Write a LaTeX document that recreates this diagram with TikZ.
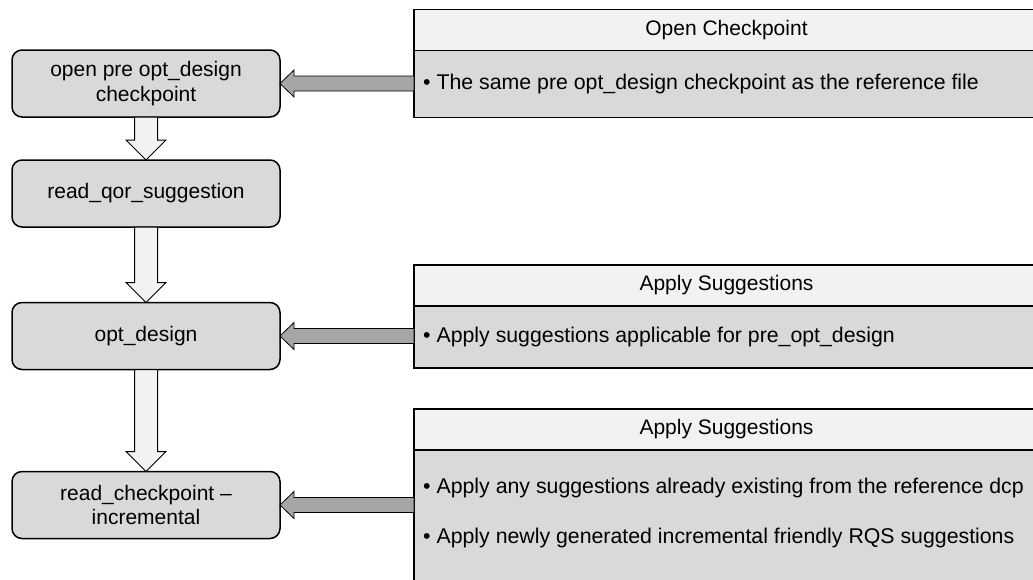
\documentclass[tikz,border=0pt]{standalone}
\usepackage{fontspec}
\setmainfont{Liberation Sans}
\usetikzlibrary{calc}
\definecolor{boxgray}{HTML}{D9D9D9}
\definecolor{headgray}{HTML}{F2F2F2}
\definecolor{arrowgray}{HTML}{A6A6A6}

% hollow block arrow between two flow boxes
\newcommand{\fatdown}[2]{\draw[downarrow] ($(#1.south)+(-11.5,0)$) -- ($(#2.north)+(-11.5,-20)$) -- ($(#2.north)+(-20,-20)$) -- (#2.north) -- ($(#2.north)+(20,-20)$) -- ($(#2.north)+(11.5,-20)$) -- ($(#1.south)+(11.5,0)$) -- cycle;}
% grey block arrow from a note into a flow box
\newcommand{\fatleft}[2]{\path (#1.west |- #2.east) coordinate (tail);
\draw[sidearrow] (#2.east) -- ++(14,-13.5) -- ++(0,6) -- ($(tail)+(0,-7.5)$) -- ($(tail)+(0,7.5)$) -- ($(#2.east)+(14,7.5)$) -- ++(0,6) -- cycle;}

\begin{document}
\begin{tikzpicture}[x=1pt,y=-1pt]
\tikzstyle{flowbox} = [rectangle, rounded corners=10pt, draw=black, line width=1.5pt, fill=boxgray, minimum width=268pt, minimum height=67pt, outer sep=0pt, align=center, font=\fontsize{21}{24.5}\selectfont]
\tikzstyle{head} = [rectangle, draw=black, line width=1.5pt, fill=headgray, minimum width=625pt, minimum height=41pt, outer sep=0pt, inner sep=0pt, anchor=north west, font=\fontsize{21}{24}\selectfont]
\tikzstyle{body} = [rectangle, draw=black, line width=1.5pt, fill=boxgray, minimum width=625pt, outer sep=0pt, inner sep=0pt, anchor=north west]
\tikzstyle{item} = [anchor=west, inner sep=0pt, font=\fontsize{21.3}{24}\selectfont]
\tikzstyle{downarrow} = [draw=black, line width=1pt, fill=headgray]
\tikzstyle{sidearrow} = [draw=black, line width=0.8pt, fill=arrowgray]
\useasboundingbox (0,0) rectangle (1033,579);
\clip (0,0) rectangle (1033,579);

\node[flowbox] (open) at (146,83.5) {open pre opt\_design\\checkpoint};
\node[flowbox] (readqor) at (146,193.5) {read\_qor\_suggestion};
\node[flowbox] (opt) at (146,336) {opt\_design};
\node[flowbox] (readcp) at (146,505) {read\_checkpoint --\\incremental};

\node[head] (cphead) at (414,9.5) {Open Checkpoint};
\node[body, minimum height=67pt] (cpbody) at (cphead.south west) {};
\node[item] (cpitem) at (423,84) {• The same pre opt\_design checkpoint as the reference file};

\node[head] (sghead) at (414,265) {Apply Suggestions};
\node[body, minimum height=62pt] (sgbody) at (sghead.south west) {};
\node[item] (sgitem) at (423,336.5) {• Apply suggestions applicable for pre\_opt\_design};

\node[head] (ichead) at (414,409) {Apply Suggestions};
\node[body, minimum height=160pt] (icbody) at (ichead.south west) {};
\node[item] (icitema) at (423,488) {• Apply any suggestions already existing from the reference dcp};
\node[item] (icitemb) at (423,538) {• Apply newly generated incremental friendly RQS suggestions};

\fatdown{open}{readqor}
\fatdown{readqor}{opt}
\fatdown{opt}{readcp}

\fatleft{cpbody}{open}
\fatleft{sgbody}{opt}
\fatleft{icbody}{readcp}
\end{tikzpicture}
\end{document}
